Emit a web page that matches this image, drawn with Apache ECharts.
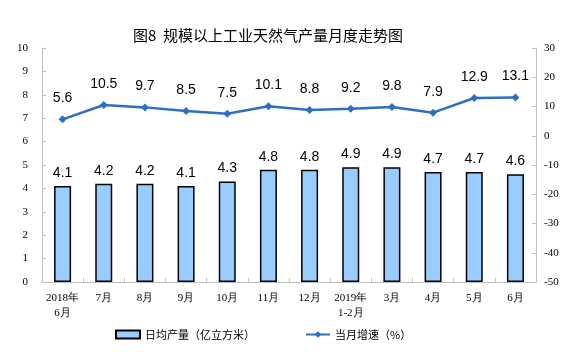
<!DOCTYPE html>
<html>
<head>
<meta charset="utf-8">
<script src="https://cdn.jsdelivr.net/npm/echarts@6/dist/echarts.min.js"></script>
<style>
  html, body { margin: 0; padding: 0; background: #fff; }
  #chart-container { width: 586px; height: 354px; }
</style>
</head>
<body>
<div id="chart-container"></div>
<script>
// months on the x axis
const months = ["2018年\n6月", "7月", "8月", "9月", "10月", "11月", "12月", "2019年\n1-2月", "3月", "4月", "5月", "6月"];
// daily output, 100 million cubic metres
const dailyOutput = [4.1, 4.2, 4.2, 4.1, 4.3, 4.8, 4.8, 4.9, 4.9, 4.7, 4.7, 4.6];
// year-on-year growth, %
const monthlyGrowth = [5.6, 10.5, 9.7, 8.5, 7.5, 10.1, 8.8, 9.2, 9.8, 7.9, 12.9, 13.1];

const chartContainer = document.getElementById("chart-container");
const myChart = echarts.init(chartContainer);

const serif = "Liberation Serif";
const sans = "Liberation Sans, Noto Sans CJK SC";
const axisGray = "#BFBFBF";

const option = {
  animation: false,
  title: {
    text: "图8  规模以上工业天然气产量月度走势图",
    left: 263,
    textAlign: "center",
    top: 23,
    textStyle: {
      fontFamily: "Noto Sans CJK SC",
      fontSize: 15,
      fontWeight: "normal",
      color: "#000",
    },
  },
  legend: {
    bottom: 9,
    left: 110,
    itemGap: 50,
    itemWidth: 24,
    itemHeight: 8,
    textStyle: {
      fontFamily: "Noto Sans CJK SC",
      fontSize: 11,
      color: "#000",
    },
    data: [
      { name: "日均产量（亿立方米）", icon: "rect" },
      { name: "当月增速（%）" },
    ],
  },
  grid: {
    left: 42,
    right: 50,
    top: 48,
    bottom: 72,
  },
  xAxis: {
    type: "category",
    data: months,
    axisLine: { lineStyle: { color: axisGray, width: 1 } },
    axisTick: { show: true, inside: true, length: 4, lineStyle: { color: axisGray } },
    axisLabel: {
      interval: 0,
      fontFamily: serif,
      fontSize: 11,
      color: "#000",
      margin: 9,
      lineHeight: 15,
    },
  },
  yAxis: [
    {
      type: "value",
      min: 0,
      max: 10,
      interval: 1,
      splitLine: { show: false },
      axisLine: { show: true, lineStyle: { color: axisGray } },
      axisTick: { show: true, inside: true, length: 4, lineStyle: { color: axisGray } },
      axisLabel: { fontFamily: serif, fontSize: 11, color: "#000", margin: 14 },
    },
    {
      type: "value",
      min: -50,
      max: 30,
      interval: 10,
      splitLine: { show: false },
      axisLine: { show: true, lineStyle: { color: axisGray } },
      axisTick: { show: true, inside: true, length: 4, lineStyle: { color: axisGray } },
      axisLabel: { fontFamily: serif, fontSize: 11, color: "#000", margin: 8 },
    },
  ],
  series: [
    {
      name: "日均产量（亿立方米）",
      type: "bar",
      yAxisIndex: 0,
      data: dailyOutput,
      barWidth: 17,
      itemStyle: {
        color: "#99CCFF",
        borderColor: "#000",
        borderWidth: 1.5,
      },
      label: {
        show: true,
        position: "top",
        distance: 6,
        fontFamily: sans,
        fontSize: 14,
        color: "#000",
        formatter: (p) => p.value.toFixed(1),
      },
    },
    {
      name: "当月增速（%）",
      type: "line",
      yAxisIndex: 1,
      data: monthlyGrowth,
      symbol: "diamond",
      symbolSize: 8,
      lineStyle: { color: "#2E6FC0", width: 2.5 },
      itemStyle: { color: "#2E6FC0" },
      label: {
        show: true,
        position: "top",
        distance: 10,
        fontFamily: sans,
        fontSize: 14,
        color: "#000",
        formatter: (p) => p.value.toFixed(1),
      },
    },
  ],
};
myChart.setOption(option);
</script>
</body>
</html>
